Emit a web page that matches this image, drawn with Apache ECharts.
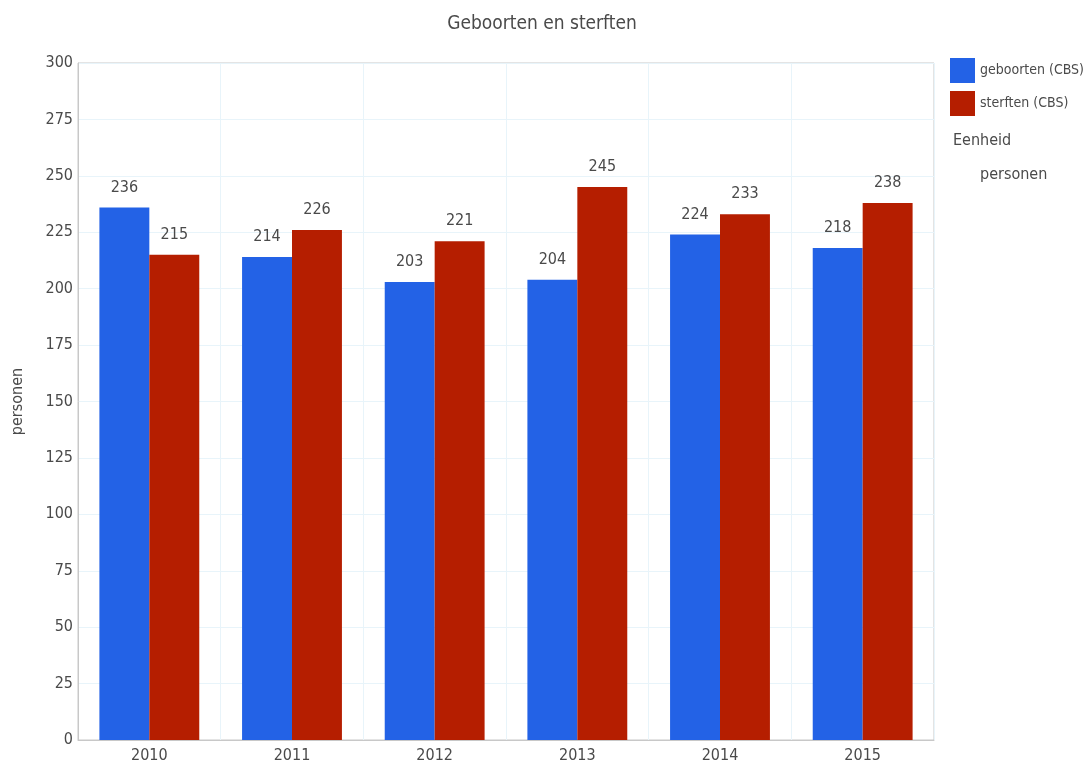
<!DOCTYPE html>
<html>
<head>
<meta charset="utf-8">
<script src="https://cdn.jsdelivr.net/npm/echarts@6/dist/echarts.min.js"></script>
<style>
html,body{margin:0;padding:0;background:#fff;}
#chart{width:1087px;height:764px;}
</style>
</head>
<body>
<div id="chart"></div>
<script>
const years = ['2010','2011','2012','2013','2014','2015'];
const geboorten = [236, 214, 203, 204, 224, 218];
const sterften = [215, 226, 221, 245, 233, 238];
const seriesNames = ['geboorten (CBS)', 'sterften (CBS)'];
const yTicks = [0, 300, 25];

const FONT = '"DejaVu Sans Condensed", "Roboto", sans-serif';
const TXT = '#4a4a4a';

const chart = echarts.init(document.getElementById('chart'), null, {renderer: 'canvas'});
chart.setOption({
  animation: false,
  backgroundColor: '#fff',
  textStyle: {fontFamily: FONT},
  title: {
    text: 'Geboorten en sterften',
    left: 537, top: 10, textAlign: 'center',
    textStyle: {fontFamily: FONT, fontSize: 19, fontWeight: 'normal', color: TXT}
  },
  legend: {
    orient: 'vertical',
    left: 945, top: 53,
    icon: 'rect',
    itemWidth: 25, itemHeight: 25, itemGap: 8,
    textStyle: {fontFamily: FONT, fontSize: 14, color: TXT},
    data: seriesNames
  },
  graphic: [
    {type: 'text', left: 953, top: 133, style: {text: 'Eenheid', font: '16px ' + FONT, fill: TXT}},
    {type: 'text', left: 980, top: 167, style: {text: 'personen', font: '16px ' + FONT, fill: TXT}}
  ],
  grid: {left: 78, top: 63, width: 856, height: 680, show: true, borderColor: '#c8c8c8', borderWidth: 1, backgroundColor: 'transparent'},
  xAxis: {
    type: 'category',
    data: years,
    axisLine: {show: true, lineStyle: {color: '#c8c8c8'}},
    axisTick: {show: false},
    axisLabel: {fontFamily: FONT, fontSize: 16, color: TXT, margin: 8},
    splitLine: {show: true, lineStyle: {color: '#e8f4fa'}}
  },
  yAxis: {
    type: 'value',
    min: yTicks[0], max: yTicks[1], interval: yTicks[2],
    name: 'personen',
    nameLocation: 'middle',
    nameGap: 52,
    nameTextStyle: {fontFamily: FONT, fontSize: 16, color: TXT},
    axisLine: {show: true, lineStyle: {color: '#c8c8c8'}},
    axisTick: {show: false},
    axisLabel: {fontFamily: FONT, fontSize: 16, color: TXT, margin: 5},
    splitLine: {show: true, lineStyle: {color: '#e8f4fa'}}
  },
  series: [
    {
      name: seriesNames[0], type: 'bar', data: geboorten,
      barGap: '0%', barCategoryGap: '30%',
      itemStyle: {color: '#2362e6'},
      label: {show: true, position: 'top', distance: 12, fontFamily: FONT, fontSize: 16, color: TXT}
    },
    {
      name: seriesNames[1], type: 'bar', data: sterften,
      barGap: '0%', barCategoryGap: '30%',
      itemStyle: {color: '#b51e00'},
      label: {show: true, position: 'top', distance: 12, fontFamily: FONT, fontSize: 16, color: TXT}
    }
  ]
});
</script>
</body>
</html>
